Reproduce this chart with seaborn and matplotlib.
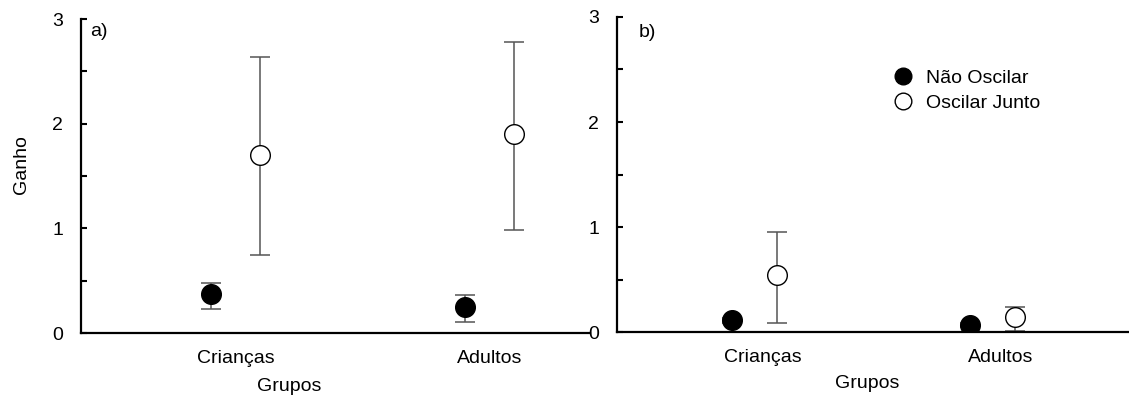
import matplotlib
matplotlib.use('Agg')
import matplotlib.pyplot as plt
from matplotlib.lines import Line2D
from matplotlib.ticker import MultipleLocator
import pandas as pd
import seaborn as sns

grupos = ['Crianças', 'Adultos']
condicoes = ['Não Oscilar', 'Oscilar Junto']

# painel a)
a_nao = [0.37, 0.25]
a_nao_lo = [0.23, 0.105]
a_nao_hi = [0.48, 0.36]
a_junto = [1.70, 1.90]
a_junto_lo = [0.745, 0.98]
a_junto_hi = [2.64, 2.78]

# painel b)
b_nao = [0.11, 0.07]
b_nao_lo = [0.09, 0.05]
b_nao_hi = [0.13, 0.09]
b_junto = [0.54, 0.145]
b_junto_lo = [0.09, 0.01]
b_junto_hi = [0.95, 0.235]

sns.set_style('white')
plt.rcParams['font.family'] = ['Liberation Sans', 'DejaVu Sans']
plt.rcParams['font.size'] = 14
for k in ['text.color', 'axes.labelcolor', 'xtick.color', 'ytick.color']:
    plt.rcParams[k] = 'black'

fig = plt.figure(figsize=(11.29, 3.98), dpi=100)
ax_a = fig.add_axes([0.0717, 0.1633, 0.4509, 0.7889])
ax_b = fig.add_axes([0.5465, 0.1658, 0.4535, 0.7915])

cores = {'Não Oscilar': 'black', 'Oscilar Junto': 'white'}


def painel(ax, nao, nao_lo, nao_hi, junto, junto_lo, junto_hi, offsets, xlim, letra, letra_xy):
    linhas = []
    for cond, vals, lo, hi, off in [
            ('Não Oscilar', nao, nao_lo, nao_hi, offsets[0]),
            ('Oscilar Junto', junto, junto_lo, junto_hi, offsets[1])]:
        for i, g in enumerate(grupos):
            linhas.append({'grupo': g, 'cond': cond, 'pos': i + off,
                           'ganho': vals[i], 'lo': lo[i], 'hi': hi[i]})
    df = pd.DataFrame(linhas)

    for cond in condicoes:
        sub = df[df['cond'] == cond]
        ax.errorbar(sub['pos'], sub['ganho'],
                    yerr=[sub['ganho'] - sub['lo'], sub['hi'] - sub['ganho']],
                    fmt='none', ecolor='#555555', elinewidth=1.1,
                    capsize=7, capthick=1.1, zorder=2)
        sns.scatterplot(data=sub, x='pos', y='ganho', ax=ax, s=200,
                        color=cores[cond], edgecolor='black', linewidth=1.0,
                        zorder=3, legend=False)

    ax.set_xlim(*xlim)
    ax.set_ylim(0, 3)
    ax.set_xticks(range(len(grupos)))
    ax.set_xticklabels(grupos)
    ax.yaxis.set_major_locator(MultipleLocator(1))
    ax.yaxis.set_minor_locator(MultipleLocator(0.5))
    ax.tick_params(axis='y', which='both', direction='in', length=4,
                   width=1.5, pad=13, left=True)
    ax.tick_params(axis='x', length=0, pad=12)
    for s in ['top', 'right']:
        ax.spines[s].set_visible(False)
    for s in ['left', 'bottom']:
        ax.spines[s].set_linewidth(1.6)
        ax.spines[s].set_color('black')
    ax.set_xlabel('')
    ax.set_ylabel('')
    ax.text(letra_xy[0], letra_xy[1], letra, transform=ax.transAxes,
            ha='left', va='center')


painel(ax_a, a_nao, a_nao_lo, a_nao_hi, a_junto, a_junto_lo, a_junto_hi,
       (-0.10, 0.096), (-0.61, 1.394), 'a)', (0.018, 0.96))
painel(ax_b, b_nao, b_nao_lo, b_nao_hi, b_junto, b_junto_lo, b_junto_hi,
       (-0.13, 0.06), (-0.613, 1.538), 'b)', (0.043, 0.95))

ax_a.set_ylabel('Ganho')
ax_a.yaxis.set_label_coords(-0.10, 0.538)
ax_a.set_xlabel('Grupos')
ax_a.xaxis.set_label_coords(0.41, -0.143)
ax_b.set_xlabel('Grupos')
ax_b.xaxis.set_label_coords(0.488, -0.137)

handles = [Line2D([], [], marker='o', linestyle='none', markersize=12,
                  markerfacecolor=cores[c], markeredgecolor='black',
                  markeredgewidth=1.0) for c in condicoes]
ax_b.legend(handles, condicoes, loc='upper left', bbox_to_anchor=(0.539, 0.835),
            frameon=False, borderpad=0, borderaxespad=0, handlelength=1.0,
            handletextpad=0.7, labelspacing=0.4)

fig.savefig('out.png', dpi=100)
